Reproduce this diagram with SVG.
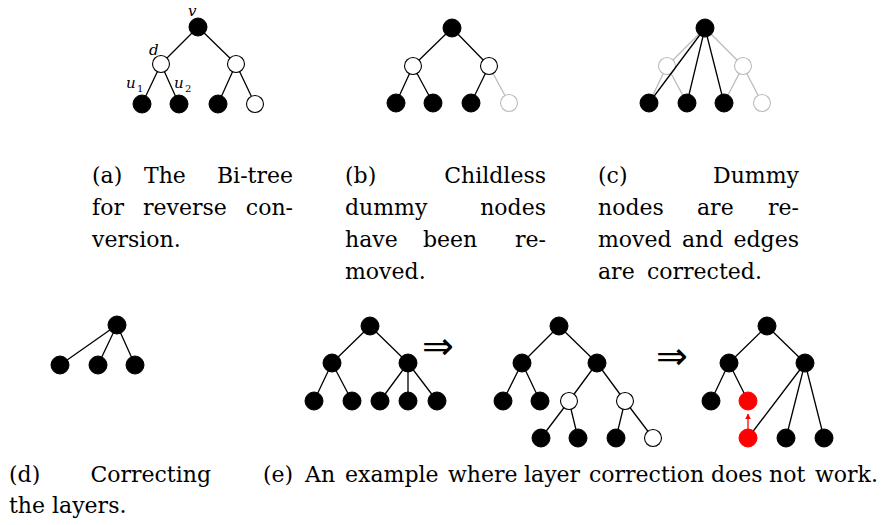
<svg xmlns="http://www.w3.org/2000/svg" width="885" height="525" viewBox="0 0 885 525">
<style>
.e{stroke:#000;stroke-width:1.3;fill:none}
.g{stroke:#bbb;stroke-width:1.3;fill:none}
.r{stroke:#f00;stroke-width:1.3;fill:none}
.b{fill:#000;stroke:#000;stroke-width:1}
.w{fill:#fff;stroke:#000;stroke-width:1.1}
.gw{fill:#fff;stroke:#bbb;stroke-width:1.1}
.rd{fill:#f00;stroke:#f00;stroke-width:1}
.t{font-size:22px;fill:#000}
.m{font-style:italic;font-size:15px;fill:#000}
.s{font-size:10px;fill:#000}
.ar{font-size:38px;fill:#000}
</style>
<defs>
<marker id="ah" viewBox="0 0 10 10" refX="9" refY="5" markerWidth="6" markerHeight="6" orient="auto" markerUnits="userSpaceOnUse">
<path d="M0,0 L10,5 L0,10 z" fill="#f00"/>
</marker>
</defs>

<g id="connectors">
<path class="e" d="M198,27 L161,64 M198,27 L236,64 M161,64 L142,104 M161,64 L179,104 M236,64 L218,104 M236,64 L255,104"/>
<path class="e" d="M452,28 L413,66 M452,28 L489,66 M413,66 L396,103 M413,66 L433,103 M489,66 L471,103"/>
<path class="g" d="M489,66 L509,103"/>
<path class="g" d="M705,28 L667,66 M705,28 L743,66 M667,66 L649,103 M667,66 L687,103 M743,66 L724,103 M743,66 L762,103"/>
<path class="e" d="M117,325 L60,365 M117,325 L98,365 M117,325 L135,365"/>
<path class="e" d="M370,326 L332,363 M370,326 L408,363 M332,363 L314,401 M332,363 L352,401 M408,363 L380,401 M408,363 L408,401 M408,363 L437,401"/>
<path class="e" d="M559,326 L522,363 M559,326 L597,363 M522,363 L503,401 M522,363 L540,401 M597,363 L569,401 M597,363 L625,401 M569,401 L541,438 M569,401 L578,438 M625,401 L616,438 M625,401 L653,438"/>
<path class="e" d="M767,326 L729,363 M767,326 L805,363 M729,363 L711,401 M729,363 L748,401 M805,363 L748,438 M805,363 L786,438 M805,363 L824,438"/>
<path class="r" d="M748,429 L748,414" marker-end="url(#ah)"/>
</g>

<g id="tree-a">
<circle class="b" cx="198" cy="27" r="9"/>
<circle class="w" cx="161" cy="64" r="8.5"/>
<circle class="w" cx="236" cy="64" r="8.5"/>
<circle class="b" cx="142" cy="104" r="9"/>
<circle class="b" cx="179" cy="104" r="9"/>
<circle class="b" cx="218" cy="104" r="9"/>
<circle class="w" cx="255" cy="104" r="8.5"/>
<g font-family="DejaVu Serif, serif">
<text class="m" x="188" y="16">v</text>
<text class="m" x="149" y="55">d</text>
<text class="m" x="126" y="88">u</text><text class="s" x="137" y="91.5">1</text>
<text class="m" x="174" y="88">u</text><text class="s" x="185" y="91.5">2</text>
</g>
</g>

<g id="tree-b">
<circle class="b" cx="452" cy="28" r="9"/>
<circle class="w" cx="413" cy="66" r="8.5"/>
<circle class="w" cx="489" cy="66" r="8.5"/>
<circle class="b" cx="396" cy="103" r="9"/>
<circle class="b" cx="433" cy="103" r="9"/>
<circle class="b" cx="471" cy="103" r="9"/>
<circle class="gw" cx="509" cy="103" r="8.5"/>
</g>

<g id="tree-c">
<circle class="gw" cx="667" cy="66" r="8.5"/>
<circle class="gw" cx="743" cy="66" r="8.5"/>
<circle class="gw" cx="762" cy="103" r="8.5"/>
<path class="e" d="M705,28 L649,103 M705,28 L687,103 M705,28 L724,103"/>
<circle class="b" cx="705" cy="28" r="9"/>
<circle class="b" cx="649" cy="103" r="9"/>
<circle class="b" cx="687" cy="103" r="9"/>
<circle class="b" cx="724" cy="103" r="9"/>
</g>

<g id="tree-d">
<circle class="b" cx="117" cy="325" r="9"/>
<circle class="b" cx="60" cy="365" r="9"/>
<circle class="b" cx="98" cy="365" r="9"/>
<circle class="b" cx="135" cy="365" r="9"/>
</g>

<g id="tree-e1">
<circle class="b" cx="370" cy="326" r="9"/>
<circle class="b" cx="332" cy="363" r="9"/>
<circle class="b" cx="408" cy="363" r="9"/>
<circle class="b" cx="314" cy="401" r="9"/>
<circle class="b" cx="352" cy="401" r="9"/>
<circle class="b" cx="380" cy="401" r="9"/>
<circle class="b" cx="408" cy="401" r="9"/>
<circle class="b" cx="437" cy="401" r="9"/>
</g>

<g id="tree-e2">
<circle class="b" cx="559" cy="326" r="9"/>
<circle class="b" cx="522" cy="363" r="9"/>
<circle class="b" cx="597" cy="363" r="9"/>
<circle class="b" cx="503" cy="401" r="9"/>
<circle class="b" cx="540" cy="401" r="9"/>
<circle class="w" cx="569" cy="401" r="8.5"/>
<circle class="w" cx="625" cy="401" r="8.5"/>
<circle class="b" cx="541" cy="438" r="9"/>
<circle class="b" cx="578" cy="438" r="9"/>
<circle class="b" cx="616" cy="438" r="9"/>
<circle class="w" cx="653" cy="438" r="8.5"/>
</g>

<g id="tree-e3">
<circle class="b" cx="767" cy="326" r="9"/>
<circle class="b" cx="729" cy="363" r="9"/>
<circle class="b" cx="805" cy="363" r="9"/>
<circle class="b" cx="711" cy="401" r="9"/>
<circle class="rd" cx="748" cy="401" r="9"/>
<circle class="rd" cx="748" cy="438" r="9"/>
<circle class="b" cx="786" cy="438" r="9"/>
<circle class="b" cx="824" cy="438" r="9"/>
</g>

<g id="arrows" font-family="DejaVu Sans, sans-serif">
<text class="ar" x="438" y="359" text-anchor="middle">⇒</text>
<text class="ar" x="672" y="369" text-anchor="middle">⇒</text>
</g>

<g id="captions" font-family="DejaVu Serif, serif">
<text class="t" x="92" y="183">(a)</text>
<text class="t" x="144" y="183">The</text>
<text class="t" x="293" y="183" text-anchor="end">Bi-tree</text>
<text class="t" x="92" y="215">for</text>
<text class="t" x="143" y="215">reverse</text>
<text class="t" x="293" y="215" text-anchor="end">con-</text>
<text class="t" x="92" y="247">version.</text>

<text class="t" x="345" y="183">(b)</text>
<text class="t" x="546" y="183" text-anchor="end">Childless</text>
<text class="t" x="345" y="215">dummy</text>
<text class="t" x="546" y="215" text-anchor="end">nodes</text>
<text class="t" x="345" y="247">have</text>
<text class="t" x="423" y="247">been</text>
<text class="t" x="546" y="247" text-anchor="end">re-</text>
<text class="t" x="345" y="279">moved.</text>

<text class="t" x="598" y="183">(c)</text>
<text class="t" x="799" y="183" text-anchor="end">Dummy</text>
<text class="t" x="598" y="215">nodes</text>
<text class="t" x="697" y="215">are</text>
<text class="t" x="799" y="215" text-anchor="end">re-</text>
<text class="t" x="598" y="247">moved</text>
<text class="t" x="682" y="247">and</text>
<text class="t" x="799" y="247" text-anchor="end">edges</text>
<text class="t" x="598" y="279">are</text>
<text class="t" x="647" y="279">corrected.</text>

<text class="t" x="9" y="482">(d)</text>
<text class="t" x="211" y="482" text-anchor="end">Correcting</text>
<text class="t" x="9" y="513">the layers.</text>

<text class="t" y="482"><tspan x="263">(e)</tspan><tspan x="305">An</tspan><tspan x="345">example</tspan><tspan x="448">where</tspan><tspan x="524">layer</tspan><tspan x="589">correction</tspan><tspan x="711">does</tspan><tspan x="769">not</tspan><tspan x="815">work.</tspan></text>
</g>
</svg>
